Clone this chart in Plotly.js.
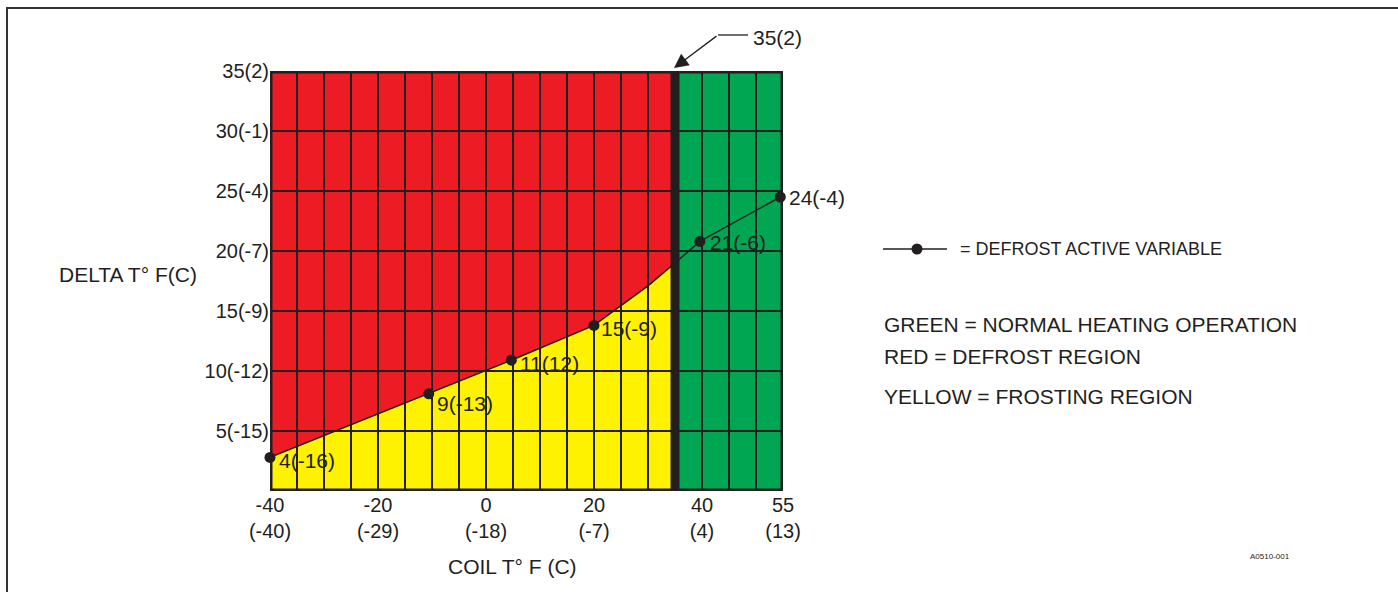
<!DOCTYPE html>
<html><head><meta charset="utf-8">
<script src="https://cdn.plot.ly/plotly-3.0.1.min.js"></script>
<style>html,body{margin:0;padding:0;background:#fff;} #chart{width:1398px;height:592px;}</style>
</head><body><div id="chart"></div>
<script>
// ---- data ----
const curveX = [-40, -10.6, 4.7, 20, 30, 35, 39.6, 54.5];
const curveY = [2.8, 8.1, 10.9, 13.8, 17.1, 19.0, 20.8, 24.5];
const pointX = [-40, -10.6, 4.7, 20, 39.6, 54.5];
const pointY = [2.8, 8.1, 10.9, 13.8, 20.8, 24.5];
const pointLabels = ['4(-16)', '9(-13)', '11(12)', '15(-9)', '21(-6)', '24(-4)'];
const xTickVals = [-40, -20, 0, 20, 40, 55];
const xTickText = ['-40<br>(-40)', '-20<br>(-29)', '0<br>(-18)', '20<br>(-7)', '40<br>(4)', '55<br>(13)'];
const yTickVals = [5, 10, 15, 20, 25, 30, 35];
const yTickText = ['5(-15)', '10(-12)', '15(-9)', '20(-7)', '25(-4)', '30(-1)', '35(2)'];
const xRange = [-40, 55];
const yRange = [0, 35];
const defrostLimit = 35;
const defrostLimitLabel = '35(2)';
const legendTexts = ['GREEN = NORMAL HEATING OPERATION', 'RED = DEFROST REGION', 'YELLOW = FROSTING REGION'];

// ---- style ----
const INK = '#231f20', RED = '#ed1c24', YEL = '#fff200', GRN = '#00a651';
const FONT = 'Liberation Sans, Arial, Helvetica, sans-serif';
const W = 1398, H = 592, L = 270, R = 615, T = 71, B = 101;
const PW = W - L - R, PH = H - T - B;
const px = v => (v - L) / PW;      // pixel -> paper x
const py = v => (H - B - v) / PH;  // pixel -> paper y
const labelDY = [-3, -10, -3, -3, -1, 0];
const labelDX = [7, 6, 7, 5, 8, 7];

// yellow region path from boundary curve
let yp = `M ${xRange[0]},0`;
curveX.forEach((x, i) => { if (x <= defrostLimit) yp += ` L ${x},${curveY[i]}`; });
yp += ` L ${defrostLimit},0 Z`;

const shapes = [
  {type:'rect', xref:'x', yref:'y', x0:xRange[0], x1:defrostLimit, y0:yRange[0], y1:yRange[1], fillcolor:RED, line:{width:0}, layer:'below'},
  {type:'rect', xref:'x', yref:'y', x0:defrostLimit, x1:xRange[1], y0:yRange[0], y1:yRange[1], fillcolor:GRN, line:{width:0}, layer:'below'},
  {type:'path', xref:'x', yref:'y', path:yp, fillcolor:YEL, line:{width:0}, layer:'below'},
  {type:'rect', xref:'x', yref:'y', x0:xRange[0], x1:xRange[1], y0:yRange[0], y1:yRange[1], line:{color:INK, width:5}, layer:'above'},
  {type:'line', xref:'x', yref:'y', x0:defrostLimit, x1:defrostLimit, y0:yRange[0], y1:yRange[1], line:{color:INK, width:9}, layer:'above'},
  // leader segment for the 35(2) callout
  {type:'line', xref:'paper', yref:'paper', x0:px(718), x1:px(748), y0:py(35), y1:py(35), line:{color:INK, width:1.3}},
  // legend sample
  {type:'line', xref:'paper', yref:'paper', x0:px(883), x1:px(947), y0:py(249), y1:py(249), line:{color:INK, width:1.3}},
  {type:'circle', xref:'paper', yref:'paper', x0:px(911.5), x1:px(922.5), y0:py(243.5), y1:py(254.5), fillcolor:INK, line:{width:0}},
  // page frame
  {type:'line', xref:'paper', yref:'paper', x0:px(6), x1:px(1398), y0:py(8), y1:py(8), line:{color:'#333', width:2}},
  {type:'line', xref:'paper', yref:'paper', x0:px(7), x1:px(7), y0:py(8), y1:py(592), line:{color:'#333', width:2}}
];

const annotations = [];
pointX.forEach((x, i) => annotations.push({
  x: x, y: pointY[i], xref:'x', yref:'y', text: pointLabels[i], showarrow:false,
  xanchor:'left', yanchor:'middle', xshift: labelDX[i], yshift: labelDY[i],
  font:{family:FONT, size:21, color:INK}
}));
annotations.push({x:px(674), y:py(68), xref:'paper', yref:'paper', text:'', showarrow:true,
  axref:'pixel', ayref:'pixel', ax:44, ay:-33, arrowhead:2, arrowsize:2.2, arrowwidth:1.3, arrowcolor:INK});
annotations.push({x:px(751), y:py(37), xref:'paper', yref:'paper', text:defrostLimitLabel, showarrow:false,
  xanchor:'left', yanchor:'middle', font:{family:FONT, size:21, color:INK}});
annotations.push({x:px(958), y:py(249), xref:'paper', yref:'paper', text:'= DEFROST ACTIVE VARIABLE', showarrow:false,
  xanchor:'left', yanchor:'middle', font:{family:FONT, size:18, color:INK}});
[324, 356, 396].forEach((yy, i) => annotations.push({x:px(882), y:py(yy), xref:'paper', yref:'paper', text:legendTexts[i], showarrow:false,
  xanchor:'left', yanchor:'middle', font:{family:FONT, size:21, color:INK}}));
annotations.push({x:px(128), y:py(274), xref:'paper', yref:'paper', text:'DELTA T° F(C)', showarrow:false,
  xanchor:'center', yanchor:'middle', font:{family:FONT, size:21, color:INK}});
annotations.push({x:px(512), y:py(566), xref:'paper', yref:'paper', text:'COIL T° F (C)', showarrow:false,
  xanchor:'center', yanchor:'middle', font:{family:FONT, size:21, color:INK}});
annotations.push({x:px(1270), y:py(556), xref:'paper', yref:'paper', text:'A0510-001', showarrow:false,
  xanchor:'center', yanchor:'middle', font:{family:FONT, size:8, color:INK}});

const traces = [
  {x:curveX, y:curveY, type:'scatter', mode:'lines', line:{color:INK, width:1.5}, hoverinfo:'skip', cliponaxis:false},
  {x:pointX, y:pointY, type:'scatter', mode:'markers', marker:{color:INK, size:11}, cliponaxis:false}
];

const layout = {
  width:W, height:H, margin:{l:L, r:R, t:T, b:B, pad:0},
  paper_bgcolor:'#fff', plot_bgcolor:'#fff', showlegend:false,
  font:{family:FONT, size:20, color:INK},
  xaxis:{range:xRange, tickvals:xTickVals, ticktext:xTickText, showgrid:true, gridcolor:INK, gridwidth:2,
    minor:{dtick:5, tick0:-40, showgrid:true, gridcolor:INK, gridwidth:2, ticks:''},
    zeroline:false, showline:false, ticks:'', tickfont:{family:FONT, size:20, color:INK}, fixedrange:true},
  yaxis:{range:yRange, tickvals:yTickVals, ticktext:yTickText, showgrid:true, gridcolor:INK, gridwidth:2,
    zeroline:false, showline:false, ticks:'', tickfont:{family:FONT, size:20, color:INK}, fixedrange:true},
  shapes:shapes, annotations:annotations
};
Plotly.newPlot('chart', traces, layout, {staticPlot:true, displayModeBar:false});
</script></body></html>
